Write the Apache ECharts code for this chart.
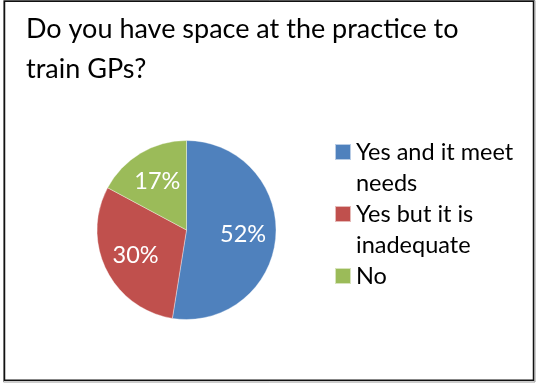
<!DOCTYPE html>
<html>
<head>
<meta charset="utf-8">
<script src="https://cdn.jsdelivr.net/npm/echarts@6/dist/echarts.min.js"></script>
<style>
  html, body { margin: 0; padding: 0; background: #fff; }
  #chart { width: 537px; height: 385px; }
</style>
</head>
<body>
<div id="chart"></div>
<script>
// Survey answers and their shares (percent)
const titleText = 'Do you have space at the practice to\ntrain GPs?';
const categories = ['Yes and it meets\nneeds', 'Yes but it is\ninadequate', 'No'];
const shares = [52, 30, 17];
const colors = ['#4F81BD', '#C0504D', '#9BBB59'];

const FONT = 'Lato, "Open Sans", "Liberation Sans", sans-serif';

const pieData = categories.map((name, i) => ({ name: name, value: shares[i] }));

const chart = echarts.init(document.getElementById('chart'), null, { renderer: 'canvas' });

chart.setOption({
  backgroundColor: '#fff',
  animation: false,
  color: colors,
  title: {
    text: titleText,
    left: 21,
    top: 4,
    textStyle: {
      fontFamily: FONT,
      fontSize: 27,
      fontWeight: 'normal',
      color: '#000',
      lineHeight: 40
    }
  },
  legend: {
    orient: 'vertical',
    left: 334,
    top: 105.5,
    padding: 0,
    itemWidth: 16,
    itemHeight: 16,
    itemGap: -31,
    icon: 'rect',
    selectedMode: false,
    // pad every entry to three rows so the swatch sits beside its first text row
    formatter: function (name) {
      const rows = name.split('\n');
      return rows.length > 1 ? '\n' + name : '\n' + name + '\n';
    },
    textStyle: {
      fontFamily: FONT,
      fontSize: 23.5,
      color: '#000',
      lineHeight: 31,
      width: 163,
      overflow: 'truncate',
      ellipsis: ''
    }
  },
  series: [
    {
      type: 'pie',
      center: [186.5, 230],
      radius: [0, 89.5],
      startAngle: 90,
      clockwise: true,
      silent: true,
      data: pieData,
      itemStyle: { borderColor: 'rgba(255,255,255,0.6)', borderWidth: 0.6 },
      label: { show: false },
      labelLine: { show: false }
    },
    {
      // label carrier: same angles, labels sit a bit further out than mid-radius
      type: 'pie',
      center: [186.5, 230],
      radius: [18, 89.5],
      startAngle: 90,
      clockwise: true,
      silent: true,
      data: pieData,
      itemStyle: { color: 'rgba(0,0,0,0)' },
      label: {
        show: true,
        position: 'inside',
        formatter: '{c}%',
        fontFamily: FONT,
        fontSize: 23.5,
        color: '#fff'
      },
      labelLine: { show: false }
    }
  ],
  graphic: [
    {
      type: 'rect',
      z: 100,
      silent: true,
      shape: { x: 3.5, y: 0.5, width: 531.5, height: 381.5 },
      style: { fill: 'none', stroke: '#9a9a9a', lineWidth: 1 }
    },
    {
      type: 'rect',
      z: 101,
      silent: true,
      shape: { x: 4.5, y: 1.25, width: 529, height: 379 },
      style: { fill: 'none', stroke: '#111', lineWidth: 1.5 }
    }
  ]
});
</script>
</body>
</html>
